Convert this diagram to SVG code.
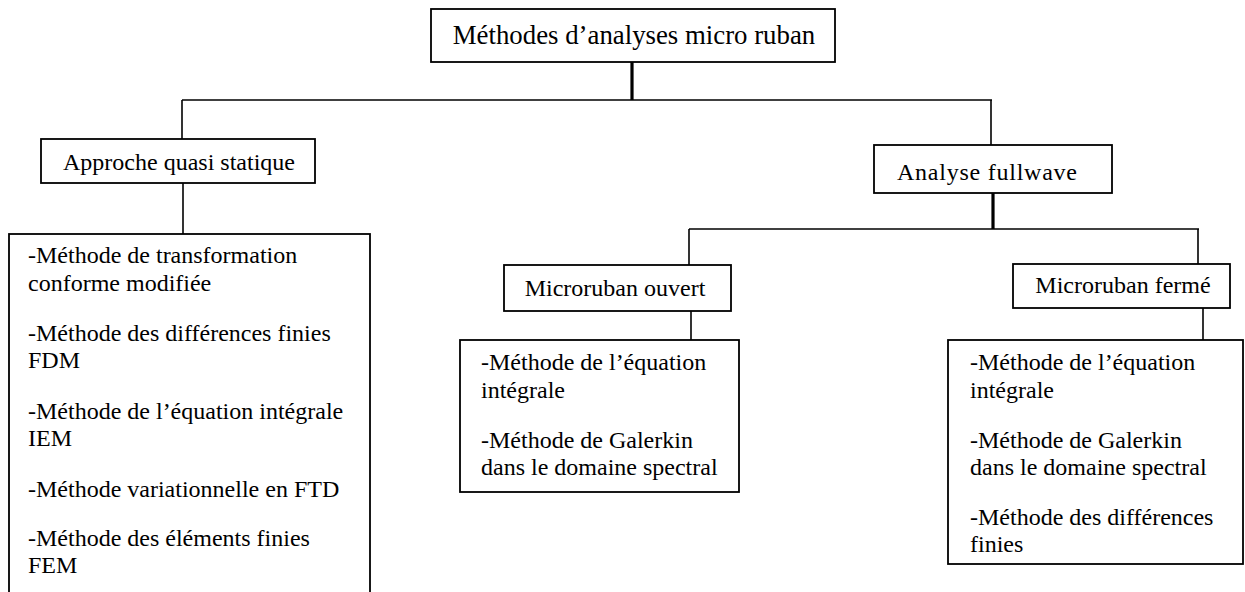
<svg xmlns="http://www.w3.org/2000/svg" width="1245" height="592" viewBox="0 0 1245 592">
  <style>
    .box { fill: #ffffff; stroke: #000000; stroke-width: 1.8; }
    .conn { fill: none; stroke: #000000; stroke-width: 1.6; }
    .thick { fill: none; stroke: #000000; stroke-width: 3.2; }
    .t { font-family: 'Liberation Serif', 'DejaVu Serif', serif; fill: #000000; font-size: 24px; }
    .title { font-size: 26.8px; }
    .c { text-anchor: middle; }
  </style>
  <rect width="1245" height="592" fill="#ffffff"/>

  <g id="connectors">
    <line class="thick" x1="632" y1="62" x2="632" y2="100"/>
    <line class="conn" x1="182" y1="100" x2="992" y2="100"/>
    <line class="conn" x1="182" y1="100" x2="182" y2="139"/>
    <line class="conn" x1="991" y1="100" x2="991" y2="145"/>
    <line class="conn" x1="183" y1="183" x2="183" y2="234"/>
    <line class="thick" x1="993" y1="193" x2="993" y2="229"/>
    <line class="conn" x1="689" y1="229" x2="1199" y2="229"/>
    <line class="conn" x1="689" y1="229" x2="689" y2="265"/>
    <line class="conn" x1="1198" y1="229" x2="1198" y2="264"/>
    <line class="conn" x1="691" y1="311" x2="691" y2="340"/>
    <line class="conn" x1="1203" y1="308" x2="1203" y2="340"/>
  </g>

  <g id="root" class="t" font-family="Liberation Serif, serif">
    <rect class="box" x="431" y="9" width="404" height="53"/>
    <text class="title c" x="634" y="44">Méthodes d’analyses micro ruban</text>
  </g>

  <g id="approche" class="t" font-family="Liberation Serif, serif">
    <rect class="box" x="41" y="139" width="274" height="44"/>
    <text class="c" x="179" y="170">Approche quasi statique</text>
  </g>

  <g id="quasi-list" class="t" font-family="Liberation Serif, serif">
    <rect class="box" x="9" y="234" width="361" height="370"/>
    <text x="28" y="263">-Méthode de transformation</text>
    <text x="28" y="291">conforme modifiée</text>
    <text x="28" y="341">-Méthode des différences finies</text>
    <text x="28" y="368">FDM</text>
    <text x="28" y="419">-Méthode de l’équation intégrale</text>
    <text x="28" y="446">IEM</text>
    <text x="28" y="497">-Méthode variationnelle en FTD</text>
    <text x="28" y="546">-Méthode des éléments finies</text>
    <text x="28" y="573">FEM</text>
  </g>

  <g id="fullwave" class="t" font-family="Liberation Serif, serif">
    <rect class="box" x="874" y="145" width="238" height="48"/>
    <text class="c" x="987" y="180" textLength="180" lengthAdjust="spacing">Analyse fullwave</text>
  </g>

  <g id="ouvert" class="t" font-family="Liberation Serif, serif">
    <rect class="box" x="504" y="265" width="227" height="46"/>
    <text class="c" x="615" y="296">Microruban ouvert</text>
  </g>

  <g id="ouvert-list" class="t" font-family="Liberation Serif, serif">
    <rect class="box" x="460" y="340" width="279" height="152"/>
    <text x="481" y="370">-Méthode de l’équation</text>
    <text x="481" y="398">intégrale</text>
    <text x="481" y="448">-Méthode de Galerkin</text>
    <text x="481" y="475">dans le domaine spectral</text>
  </g>

  <g id="ferme" class="t" font-family="Liberation Serif, serif">
    <rect class="box" x="1013" y="264" width="217" height="44"/>
    <text class="c" x="1123" y="293">Microruban fermé</text>
  </g>

  <g id="ferme-list" class="t" font-family="Liberation Serif, serif">
    <rect class="box" x="948" y="340" width="295" height="224"/>
    <text x="970" y="370">-Méthode de l’équation</text>
    <text x="970" y="398">intégrale</text>
    <text x="970" y="448">-Méthode de Galerkin</text>
    <text x="970" y="475">dans le domaine spectral</text>
    <text x="970" y="525">-Méthode des différences</text>
    <text x="970" y="552">finies</text>
  </g>
</svg>
